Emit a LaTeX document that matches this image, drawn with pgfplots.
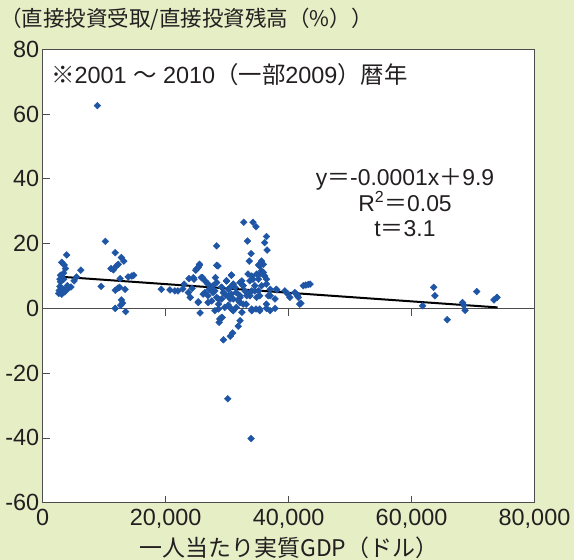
\documentclass[border=0pt]{standalone}
\usepackage{pgfplots}
\pgfplotsset{compat=1.18}
\usepackage{fontspec}
\setmainfont{Liberation Sans}
\newfontfamily\jp{Noto Sans CJK JP}

\definecolor{bgcol}{HTML}{E6EEC6}
\definecolor{ptblue}{HTML}{1F55A5}
\definecolor{axisgray}{HTML}{4D4D4D}
\definecolor{textcol}{HTML}{231F20}

\begin{document}
\begin{tikzpicture}
\fill[bgcol] (0bp,0bp) rectangle (574bp,560bp);

\begin{axis}[
  at={(42.7bp,57.3bp)}, anchor=south west,
  scale only axis, width=491.8bp, height=453.4bp,
  xmin=0, xmax=80000, ymin=-60, ymax=80,
  xtick={0,20000,40000,60000,80000},
  ytick={-60,-40,...,80},
  xtick pos=bottom, ytick pos=left,
  tick align=inside, major tick length=7bp,
  tick style={axisgray, line width=0.8bp},
  axis line style={axisgray, line width=1bp},
  axis background/.style={fill=white},
  scaled x ticks=false,
  /pgf/number format/assume math mode=true,
  x tick label style={/pgf/number format/1000 sep={,}, yshift=-3bp},
  tick label style={font=\fontsize{23.5}{26}\selectfont, text=textcol},
  clip=false,
]
% zero line with its hanging ticks
\draw[axisgray, line width=1bp] (axis cs:0,0) -- (axis cs:80000,0);
\draw[axisgray, line width=0.8bp] (axis cs:20000,0) -- ([yshift=-8bp]axis cs:20000,0);
\draw[axisgray, line width=0.8bp] (axis cs:40000,0) -- ([yshift=-8bp]axis cs:40000,0);
\draw[axisgray, line width=0.8bp] (axis cs:60000,0) -- ([yshift=-8bp]axis cs:60000,0);

\addplot[only marks, mark=square*, mark size=2.4bp,
  mark options={rotate=45, fill=ptblue, draw=ptblue}] table {
x y
3900 16.5
3100 14.2
3500 13.4
3700 12.3
3400 10.9
2900 10.2
3400 9.0
2900 8.2
2800 6.8
2600 4.6
2900 5.1
3400 5.7
3800 5.7
4200 6.2
4600 6.6
5100 8.5
5500 9.7
6200 11.8
3100 4.4
3600 5.1
2700 5.5
3200 6.0
4000 7.0
2800 9.0
8900 62.6
10200 20.7
11800 17.2
11100 12.3
11500 11.9
12000 13.1
12300 13.6
12800 15.7
13200 14.6
12600 9.2
9500 6.8
11800 5.6
12200 6.2
12500 6.5
13400 5.9
13900 9.7
14500 10.0
14800 10.2
12800 2.6
13000 1.6
12700 1.0
11800 0.0
13500 -1.0
19300 5.9
20700 5.7
21500 5.4
22000 5.4
23000 7.5
23800 9.2
24600 9.0
24900 11.8
25500 13.6
25300 12.6
25800 9.5
23700 4.9
25300 2.0
25600 -1.4
26400 8.5
26900 7.5
27100 5.9
27700 7.0
28300 19.3
28500 13.1
28300 8.0
28000 5.4
28300 3.4
28600 1.3
29100 6.5
29400 4.9
28800 -3.3
29200 -2.8
28700 -4.3
29400 -9.7
30500 -8.6
30900 -7.6
31800 -5.5
32100 -3.8
32400 -1.2
30700 10.3
29900 8.5
30200 5.9
30700 4.4
30500 2.9
30700 -0.2
31300 6.5
31500 4.9
32100 3.4
32400 8.5
32600 7.0
32900 5.4
33200 3.9
32700 26.6
34200 26.6
34700 25.2
33300 20.8
36400 22.2
36100 20.3
36500 18.0
33900 16.9
33600 14.6
35600 14.6
35900 13.6
35100 13.4
33400 10.6
34000 10.0
34200 9.0
34800 10.6
35300 10.6
35600 11.6
36100 10.0
36400 9.0
33700 8.5
35100 9.0
34500 7.0
35600 7.0
34000 5.4
35100 5.4
33700 3.9
34800 3.4
34000 -0.2
34700 -0.2
35300 -0.2
36400 0.0
37800 0.0
36700 3.9
36400 1.3
37000 5.9
37800 2.9
38000 5.9
39400 5.4
40200 3.4
41000 4.9
41600 3.4
41800 1.3
39900 4.4
26100 4.4
26900 3.9
27500 2.3
29600 0.3
31500 0.3
32100 1.8
28600 -0.2
29100 2.9
33100 1.3
24000 3.4
28100 9.5
31000 7.5
29800 4.0
31800 2.5
27300 6.5
24300 6.2
22800 6.0
30200 1.0
25500 13.3
25000 12.1
26000 9.5
24500 9.5
26900 7.5
28300 13.3
30700 10.2
35300 13.1
35900 11.1
36400 7.5
38100 5.7
41300 4.4
25300 1.8
26900 1.8
28600 2.9
29400 4.9
30500 6.5
29100 6.5
32100 8.0
32600 7.0
33200 4.9
32100 3.9
31000 2.9
34500 5.4
35300 3.9
37000 3.9
29100 -2.8
28000 -0.7
31000 -0.7
34000 -0.7
35300 -0.7
37000 -0.7
32600 1.3
30200 3.9
27700 4.9
26400 4.9
29900 8.5
30100 -27.9
33900 -40.2
42400 7.0
42800 7.2
43200 7.4
43500 7.5
41400 3.9
42000 1.6
61800 0.8
63600 6.5
63800 3.9
65800 -3.5
68300 1.8
68500 1.0
68700 -0.6
70600 5.2
73400 2.6
73900 3.4
};

% fitted trend line
\addplot[black, line width=2bp] coordinates {(2700,9.8) (74000,0.3)};
\end{axis}

% titles and notes
\node[anchor=west, text=textcol, inner sep=0pt,
  font=\jp\fontsize{21.6}{24}\selectfont] at (0bp,541bp) {（直接投資受取/直接投資残高（\%））};
\node[anchor=west, text=textcol, inner sep=0pt,
  font=\fontsize{23.5}{26}\selectfont] at (51bp,485bp)
  {{\jp ※}2001 {\jp ～} 2010{\jp （一部}2009{\jp ）暦年}};
\node[text=textcol, align=center, inner sep=0pt,
  font=\fontsize{23}{25.5}\selectfont] at (405bp,357bp)
  {y{\jp ＝}-0.0001x{\jp ＋}9.9\\R\textsuperscript{2}{\jp ＝}0.05\\t{\jp ＝}3.1};
\node[text=textcol, inner sep=0pt,
  font=\jp\fontsize{23}{25}\selectfont] at (289bp,12bp) {一人当たり実質GDP（ドル）};

\pgfresetboundingbox
\path[use as bounding box] (0bp,0bp) rectangle (574bp,560bp);
\end{tikzpicture}
\end{document}
